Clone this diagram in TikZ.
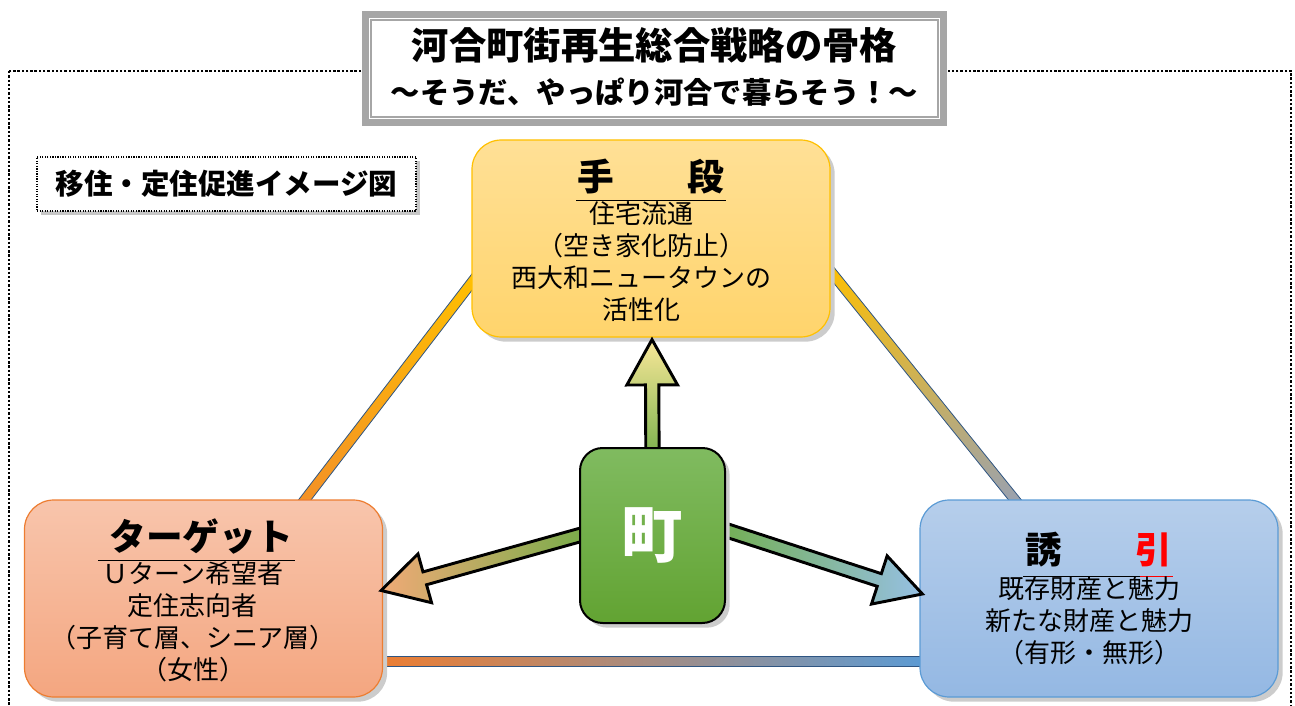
\documentclass[tikz,border=0pt]{standalone}
\usepackage{fontspec}
\setmainfont{Noto Sans CJK JP}
\usetikzlibrary{calc,shadows,backgrounds,positioning}
\pgfdeclarelayer{front}
\pgfsetlayers{background,main,front}

\definecolor{framegray}{RGB}{166,166,166}
\definecolor{barline}{RGB}{47,85,130}
\definecolor{meansTop}{RGB}{255,224,150}
\definecolor{meansBot}{RGB}{255,212,108}
\definecolor{meansEdge}{RGB}{255,192,0}
\definecolor{targetTop}{RGB}{248,197,172}
\definecolor{targetBot}{RGB}{244,166,128}
\definecolor{targetEdge}{RGB}{237,125,49}
\definecolor{lureTop}{RGB}{182,206,235}
\definecolor{lureBot}{RGB}{148,184,227}
\definecolor{lureEdge}{RGB}{91,155,213}
\definecolor{townTop}{RGB}{128,187,96}
\definecolor{townBot}{RGB}{98,163,50}
\definecolor{goldbar}{RGB}{255,192,0}
\definecolor{orangebar}{RGB}{243,143,40}
\definecolor{slatebar}{RGB}{150,160,182}
\definecolor{bluebar}{RGB}{91,155,213}
\definecolor{rustbar}{RGB}{237,125,49}
\definecolor{arrowgold}{RGB}{249,231,152}
\definecolor{arrowgreen}{RGB}{112,173,71}
\definecolor{arrowpeach}{RGB}{240,170,118}
\definecolor{arrowsky}{RGB}{150,192,228}

\tikzset{every picture/.style={line width=0.75pt}}
\tikzset{
  panel/.style={rounded corners=22pt, minimum width=268.5pt, minimum height=147.75pt, line width=0.9pt,
    drop shadow={shadow xshift=3.5pt, shadow yshift=-3.5pt, fill=black!20, opacity=1}},
  headtext/.style={inner sep=0pt, font=\bfseries\fontsize{27.5}{30}\selectfont},
  bodytext/.style={inner sep=0pt, align=center, font=\fontsize{19.5}{24}\selectfont},
  ruleline/.style={line width=1.2pt},
}

% gradient bar between two points
\newcommand{\gradbar}[3]{%
  \shade[draw=barline, line width=0.6pt, #3]
    ($(#1)!3.75pt!90:(#2)$) -- ($(#2)!3.75pt!-90:(#1)$) -- ($(#2)!3.75pt!90:(#1)$) -- ($(#1)!3.75pt!-90:(#2)$) -- cycle;}

% block arrow from #1 to tip #2
\newcommand{\fatarrow}[3]{%
  \coordinate (hb) at ($(#2)!34pt!(#1)$);
  \shade[draw=black, line width=2.2pt, line join=miter, #3]
    ($(#1)!5pt!90:(#2)$) -- ($(hb)!5pt!90:(#2)$) -- ($(hb)!19pt!90:(#2)$) -- (#2)
    -- ($(hb)!19pt!-90:(#2)$) -- ($(hb)!5pt!-90:(#2)$) -- ($(#1)!5pt!-90:(#2)$) -- cycle;}

\begin{document}
\begin{tikzpicture}[x=0.75pt,y=-0.75pt]
\useasboundingbox (0,0) rectangle (1295,706);

%Dotted frame
\draw[line width=1.8pt, dash pattern=on 1.8pt off 1.4pt] (9,71) rectangle (1291,740);

%Title frame
\filldraw[fill=white, draw=framegray, line width=5.25pt] (365.5,14.5) rectangle (943.5,122.5);
\node[draw=framegray, line width=1.1pt, fill=white, minimum width=425.25pt, minimum height=72.75pt] (title) at (654.5,68.5) {};
\node[inner sep=0pt, font=\bfseries\fontsize{28}{30}\selectfont] (titleA) at ($(title.center)+(0,-23.5)$) {河合町街再生総合戦略の骨格};
\node[inner sep=0pt, font=\bfseries\fontsize{22}{24}\selectfont] (titleB) at ($(title.center)+(0,23.5)$) {～そうだ、やっぱり河合で暮らそう！～};

%Caption
\node[draw, densely dotted, line width=0.9pt, fill=white, minimum width=284.25pt, minimum height=40.5pt,
  drop shadow={shadow xshift=3pt, shadow yshift=-3pt, fill=black!22, opacity=1},
  font=\bfseries\fontsize{21.4}{24}\selectfont] (caption) at (226.5,184) {移住・定住促進イメージ図};

%Panels
\node[panel, draw=meansEdge, top color=meansTop, bottom color=meansBot] (means) at (651,238.5) {};
\node[panel, draw=targetEdge, top color=targetTop, bottom color=targetBot] (target) at (203.5,598.5) {};
\node[panel, draw=lureEdge, top color=lureTop, bottom color=lureBot] (lure) at (1099,598.5) {};

%Triangle bars
\begin{scope}[on background layer]
\coordinate (lbA) at ($(target.north)+(95.5,8)$);
\coordinate (lbB) at ($(means.west)+(6,36.5)$);
\coordinate (rbA) at ($(means.east)+(-5,26.5)$);
\coordinate (rbB) at ($(lure.north)+(-78,8)$);
\coordinate (bbA) at ($(target.east)+(-8,62.5)$);
\coordinate (bbB) at ($(lure.west)+(8,62.5)$);
\gradbar{lbA}{lbB}{top color=goldbar, bottom color=orangebar}
\gradbar{rbA}{rbB}{top color=goldbar, bottom color=slatebar}
\gradbar{bbA}{bbB}{left color=rustbar, right color=bluebar}
\end{scope}

%Panel texts
\node[headtext] (meansH) at ($(means.north)+(0,37)$) {手　　段};
\draw[ruleline] ($(means.north)+(-75,61)$) -- ($(means.north)+(75,61)$);
\node[bodytext] (meansB) at ($(means.north)+(-10,122)$) {住宅流通\\（空き家化防止）\\西大和ニュータウンの\\活性化};

\node[headtext] (targetH) at ($(target.north)+(-2.5,37)$) {ターゲット};
\draw[ruleline] ($(target.north)+(-105.5,61)$) -- ($(target.north)+(91.5,61)$);
\node[bodytext] (targetB) at ($(target.north)+(-10.5,122.5)$) {Ｕターン希望者\\定住志向者\\（子育て層、シニア層）\\（女性）};

\node[headtext] (lureH) at ($(lure.north)+(0,50)$) {誘　　\textcolor{red}{引}};
\draw[ruleline] ($(lure.north)+(-76,77)$) -- ($(lure.north)+(41,77)$);
\draw[ruleline, red] ($(lure.north)+(41,77)$) -- ($(lure.north)+(74,77)$);
\node[bodytext] (lureB) at ($(lure.north)+(-10,121.5)$) {既存財産と魅力\\新たな財産と魅力\\（有形・無形）};

%Town
\begin{pgfonlayer}{front}
\node[rounded corners=17pt, minimum width=108.75pt, minimum height=131.25pt, draw=black, line width=1.5pt,
  top color=townTop, bottom color=townBot,
  drop shadow={shadow xshift=3.5pt, shadow yshift=-3.5pt, fill=black!20, opacity=1},
  text=white, font=\bfseries\fontsize{46}{50}\selectfont] (town) at (652.5,535.5) {町};
\end{pgfonlayer}

%Arrows
\coordinate (upS) at ($(town.north)+(0,20)$);
\coordinate (upT) at ($(means.south)+(1,2)$);
\coordinate (leftS) at ($(town.west)+(19,-5.5)$);
\coordinate (leftT) at ($(target.east)+(-2,-8)$);
\coordinate (rightS) at ($(town.east)+(-19,-11.5)$);
\coordinate (rightT) at ($(lure.west)+(3,-4.5)$);
\fatarrow{upS}{upT}{top color=arrowgold, bottom color=arrowgreen}
\fatarrow{leftS}{leftT}{left color=arrowpeach, right color=arrowgreen}
\fatarrow{rightS}{rightT}{left color=arrowgreen, right color=arrowsky}

\end{tikzpicture}
\end{document}
